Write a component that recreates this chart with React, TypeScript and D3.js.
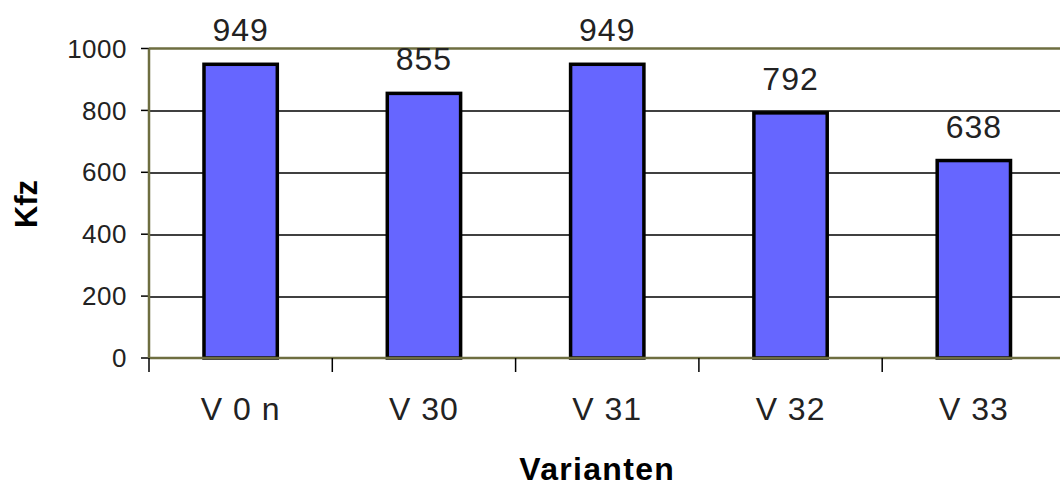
import React, { useEffect, useRef } from 'react';
import * as d3 from 'd3';

const categories = ['V 0 n', 'V 30', 'V 31', 'V 32', 'V 33'];
const values = [949, 855, 949, 792, 638];
const yTicks = [0, 200, 400, 600, 800, 1000];

const FONT = '"Liberation Sans", Arial, sans-serif';
const OLIVE = '#6e6e40';

const App = () => {
  const svgRef = useRef<SVGSVGElement>(null);

  useEffect(() => {
    const width = 1060;
    const height = 489;
    const margin = { top: 48.5, left: 149, bottom: 131 };
    const plotH = height - margin.top - margin.bottom;

    const svg = d3.select(svgRef.current)
      .attr('width', width)
      .attr('height', height);
    svg.selectAll('*').remove();

    const g = svg.append('g')
      .attr('transform', `translate(${margin.left},${margin.top})`);

    const x = d3.scaleBand<string>()
      .domain(categories)
      .range([0, 183.3 * categories.length])
      .paddingInner(0.6)
      .paddingOuter(0.3);

    const y = d3.scaleLinear().domain([0, 1000]).range([plotH, 0]);
    const plotW = x.range()[1];

    // gridlines
    g.selectAll('line.grid')
      .data(yTicks.filter(d => d > 0 && d < 1000))
      .enter()
      .append('line')
      .attr('x1', 0)
      .attr('x2', plotW)
      .attr('y1', d => Math.round(y(d)) + 0.5)
      .attr('y2', d => Math.round(y(d)) + 0.5)
      .attr('stroke', '#000')
      .attr('stroke-width', 1.3);

    // plot frame top
    g.append('line')
      .attr('x1', 0).attr('x2', plotW)
      .attr('y1', y(1000)).attr('y2', y(1000))
      .attr('stroke', OLIVE).attr('stroke-width', 2.5);

    // y ticks
    g.selectAll('line.ytick')
      .data(yTicks)
      .enter()
      .append('line')
      .attr('x1', -8).attr('x2', 0)
      .attr('y1', d => y(d)).attr('y2', d => y(d))
      .attr('stroke', '#000').attr('stroke-width', 1.5);

    g.selectAll('text.ylab')
      .data(yTicks)
      .enter()
      .append('text')
      .attr('x', -22)
      .attr('y', d => y(d))
      .attr('dy', '0.35em')
      .attr('text-anchor', 'end')
      .style('font-family', FONT)
      .style('font-size', '26px')
      .style('letter-spacing', '0.5px')
      .style('fill', '#222')
      .text(d => d);

    // bars
    g.selectAll('rect.bar')
      .data(values)
      .enter()
      .append('rect')
      .attr('x', (d, i) => x(categories[i])!)
      .attr('y', d => y(d))
      .attr('width', x.bandwidth())
      .attr('height', d => plotH - y(d))
      .attr('fill', '#6666ff')
      .attr('stroke', '#000')
      .attr('stroke-width', 3.5);

    // value labels
    g.selectAll('text.val')
      .data(values)
      .enter()
      .append('text')
      .attr('x', (d, i) => x(categories[i])! + x.bandwidth() / 2)
      .attr('y', d => y(d) - 23)
      .attr('text-anchor', 'middle')
      .style('font-family', FONT)
      .style('font-size', '32px')
      .style('letter-spacing', '1px')
      .style('fill', '#222')
      .text(d => d);

    // left + bottom axis lines
    g.append('line')
      .attr('x1', 0).attr('x2', 0)
      .attr('y1', y(1000)).attr('y2', plotH)
      .attr('stroke', OLIVE).attr('stroke-width', 2.5);
    g.append('line')
      .attr('x1', 0).attr('x2', plotW)
      .attr('y1', plotH).attr('y2', plotH)
      .attr('stroke', OLIVE).attr('stroke-width', 2.5);

    // x ticks at band boundaries
    const step = x.step();
    g.selectAll('line.xtick')
      .data(d3.range(categories.length + 1))
      .enter()
      .append('line')
      .attr('x1', i => i * step).attr('x2', i => i * step)
      .attr('y1', plotH).attr('y2', plotH + 14)
      .attr('stroke', '#000').attr('stroke-width', 1.5);

    g.selectAll('text.xlab')
      .data(categories)
      .enter()
      .append('text')
      .attr('x', d => x(d)! + x.bandwidth() / 2)
      .attr('y', plotH + 62)
      .attr('text-anchor', 'middle')
      .style('font-family', FONT)
      .style('font-size', '32px')
      .style('letter-spacing', '1px')
      .style('fill', '#222')
      .text(d => d);

    // axis titles
    svg.append('text')
      .attr('x', margin.left + plotW / 2 - 10)
      .attr('y', 480)
      .attr('text-anchor', 'middle')
      .style('font-family', FONT)
      .style('font-size', '32px')
      .style('font-weight', 'bold')
      .style('letter-spacing', '1.3px')
      .style('fill', '#000')
      .text('Varianten');

    svg.append('text')
      .attr('transform', 'translate(37,204) rotate(-90)')
      .attr('text-anchor', 'middle')
      .style('font-family', FONT)
      .style('font-size', '31px')
      .style('font-weight', 'bold')
      .style('fill', '#000')
      .text('Kfz');
  }, []);

  return (
    <svg ref={svgRef} style={{ position: 'absolute', left: 0, top: 0, background: '#fff' }}></svg>
  );
};

export default App;
